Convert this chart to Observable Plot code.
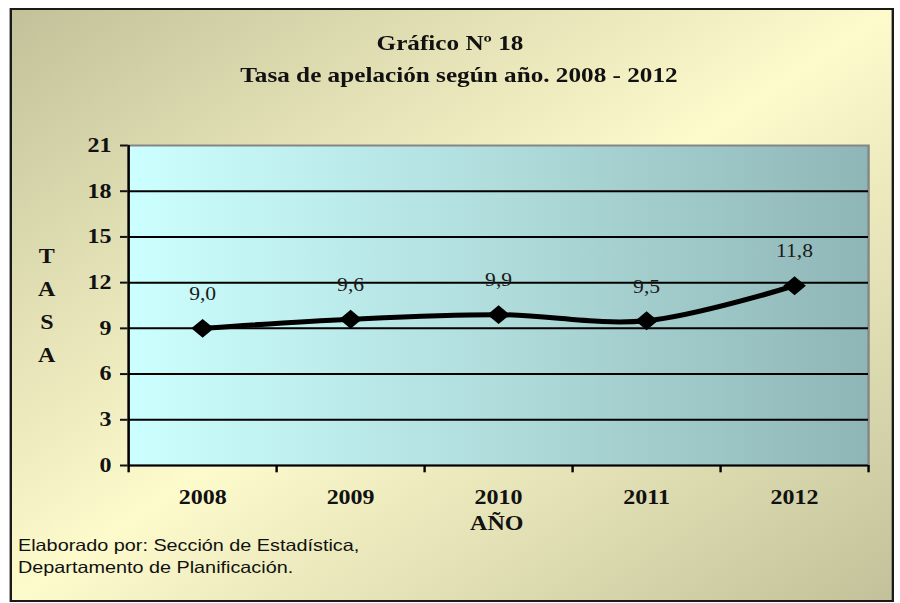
<!DOCTYPE html>
<html>
<head>
<meta charset="utf-8">
<script src="https://cdn.jsdelivr.net/npm/d3@7"></script>
<script src="https://cdn.jsdelivr.net/npm/@observablehq/plot@0.6"></script>
<style>
  body { margin: 0; background: #ffffff; overflow: hidden; }
  #wrap { position: absolute; left: 0; top: 0; width: 750px; height: 603px; transform: scaleX(1.2); transform-origin: 0 0; }
  #box { position: absolute; left: 7.5px; top: 8px; width: 733px; height: 590px;
    border: 2px solid #1a1a1a;
    background: linear-gradient(to bottom right, #c3c199 0%, #fdfbcc 50%, #c3c199 100%); }
  #chart { position: absolute; left: 0; top: 0; }
  .t { position: absolute; font-family: "Liberation Serif", "Times New Roman", serif; font-weight: bold; color: #111; white-space: nowrap; }
  .cap { position: absolute; font-family: "Liberation Sans", Arial, sans-serif; font-size: 16.5px; color: #111; line-height: 22px; white-space: nowrap; }
  #chart svg [aria-label^="y-axis"] line, #chart svg [aria-label^="y-axis"] path { stroke-width: 2; }
</style>
</head>
<body>
<div id="wrap">
  <div id="box"></div>
  <div id="chart"></div>
  <div class="t" style="left:0;width:750px;top:31px;text-align:center;font-size:21px;">Gráfico Nº 18</div>
  <div class="t" style="left:0;width:765px;top:63px;text-align:center;font-size:21px;">Tasa de apelación según año. 2008 - 2012</div>
  <div class="t" style="left:29px;width:20px;top:240px;text-align:center;font-size:20px;line-height:33px;">T<br>A<br>S<br>A</div>
  <div class="t" style="left:364px;width:100px;top:512px;text-align:center;font-size:20px;">AÑO</div>
  <div class="cap" style="left:15px;top:534px;">Elaborado por: Sección de Estadística,<br>Departamento de Planificación.</div>
</div>
<script>
const years = [2008, 2009, 2010, 2011, 2012];
const rates = [9.0, 9.6, 9.9, 9.5, 11.8];
const yTicks = [0, 3, 6, 9, 12, 15, 18, 21];
const gridValues = [3, 6, 9, 12, 15, 18];
const bandBounds = [2007.5, 2008.5, 2009.5, 2010.5, 2011.5, 2012.5];

const data = years.map((y, i) => ({year: y, rate: rates[i]}));
const fmt = v => v.toFixed(1).replace(".", ",");

const plot = Plot.plot({
  width: 750,
  height: 603,
  marginLeft: 106.7,
  marginRight: 26.7,
  marginTop: 145,
  marginBottom: 138,
  style: {background: "transparent", fontFamily: "'Liberation Serif', 'Times New Roman', serif", fontSize: "20px", fontWeight: "bold", color: "#111", overflow: "visible"},
  x: {type: "linear", domain: [2007.5, 2012.5], ticks: years, tickFormat: d => String(d), tickSize: 0, tickPadding: 24, label: null},
  y: {domain: [0, 21], ticks: yTicks, tickSize: 6.7, tickPadding: 7.5, label: null},
  marks: [
    Plot.frame({fill: "url(#plotGrad)", stroke: "#858585", strokeWidth: 2}),
    Plot.ruleY(gridValues, {stroke: "#000", strokeWidth: 2}),
    Plot.ruleY([0], {stroke: "#000", strokeWidth: 2}),
    Plot.ruleX([bandBounds[0]], {stroke: "#000", strokeWidth: 2}),
    Plot.ruleX(bandBounds, {x: d => d, y1: 0, y2: -0.48, stroke: "#000", strokeWidth: 2}),
    Plot.line(data, {x: "year", y: "rate", curve: "catmull-rom", stroke: "#000", strokeWidth: 5}),
    Plot.dot(data, {x: "year", y: "rate", symbol: "diamond2", r: 8.5, fill: "#000", stroke: "none"}),
    Plot.text(data, {x: "year", y: "rate", text: d => fmt(d.rate), dy: -34, fontSize: 18, fontWeight: "normal", fill: "#1a1a1a"})
  ]
});

const defs = d3.select(plot).insert("defs", ":first-child");
const g = defs.append("linearGradient").attr("id", "plotGrad").attr("x1", "0%").attr("x2", "100%").attr("y1", "0%").attr("y2", "0%");
g.append("stop").attr("offset", "0%").attr("stop-color", "#ccffff");
g.append("stop").attr("offset", "50%").attr("stop-color", "#b0dcdc");
g.append("stop").attr("offset", "100%").attr("stop-color", "#8fb6b6");

document.getElementById("chart").appendChild(plot);
</script>
</body>
</html>
